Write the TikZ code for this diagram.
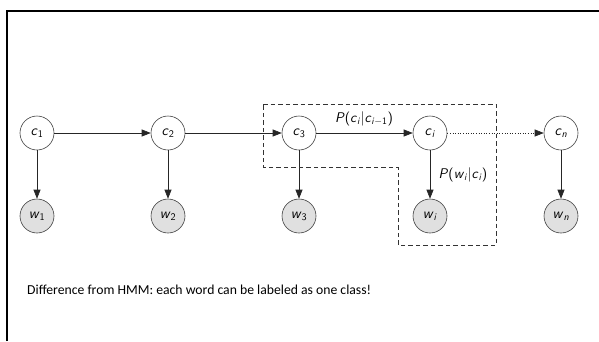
\documentclass[tikz,border=0pt]{standalone}
\usepackage{amsmath}
\usepackage{fontspec}
\newfontfamily\carlito{Carlito}
\usetikzlibrary{arrows.meta}
\newcommand{\sv}[1]{\textsf{\textit{#1}}}
\newcommand{\su}[1]{\textsf{#1}}
\begin{document}
\begin{tikzpicture}[x=1pt,y=-1pt,
  var/.style={circle,draw=black!75,line width=0.6pt,minimum size=34pt,inner sep=0pt,font=\fontsize{14.5}{16}\selectfont},
  obs/.style={var,fill=black!12},
  arr/.style={-{Triangle[length=9pt,width=7pt]},line width=0.6pt,black!85},
  lab/.style={font=\fontsize{14}{16}\selectfont,inner sep=1pt}]
\useasboundingbox (0,0) rectangle (599,341);
\draw[line width=2pt] (7,341) -- (7,11) -- (599,11);
\node[var] (c1) at (37,133) {$\sv{c}_{\su{1}}$};
\node[var] (c2) at (168,133) {$\sv{c}_{\su{2}}$};
\node[var] (c3) at (299,133) {$\sv{c}_{\su{3}}$};
\node[var] (ci) at (430,133) {$\sv{c}_{\sv{i}}$};
\node[var] (cn) at (561,133) {$\sv{c}_{\sv{n}}$};
\node[obs] (w1) at (37,216) {$\sv{w}_{\su{1}}$};
\node[obs] (w2) at (168,216) {$\sv{w}_{\su{2}}$};
\node[obs] (w3) at (299,216) {$\sv{w}_{\su{3}}$};
\node[obs] (wi) at (430,216) {$\sv{w}_{\sv{i}}$};
\node[obs] (wn) at (561,216) {$\sv{w}_{\sv{n}}$};
\draw[arr] (c1) -- (c2);
\draw[arr] (c2) -- (c3);
\draw[arr] (c3) -- (ci);
\draw[arr,dotted] (ci) -- (cn);
\foreach \a/\b in {c1/w1,c2/w2,c3/w3,ci/wi,cn/wn} \draw[arr] (\a) -- (\b);
\draw[dash pattern=on 4.5pt off 3pt,line width=0.6pt,black!80] (263,104) -- (496,104) -- (496,245) -- (398,245) -- (398,167) -- (263,167) -- cycle;
\node[lab] (l1) at (364,119) {$\sv{P}\su{(}\sv{c}_{\sv{i}}|\sv{c}_{\sv{i}-\su{1}}\su{)}$};
\node[lab] (l2) at (463,175) {$\sv{P}\su{(}\sv{w}_{\sv{i}}|\sv{c}_{\sv{i}}\su{)}$};
\node[anchor=west,inner sep=0pt,font=\carlito\fontsize{13.7}{15}\selectfont] (t) at (27,290) {Difference from HMM: each word can be labeled as one class!};
\end{tikzpicture}
\end{document}
